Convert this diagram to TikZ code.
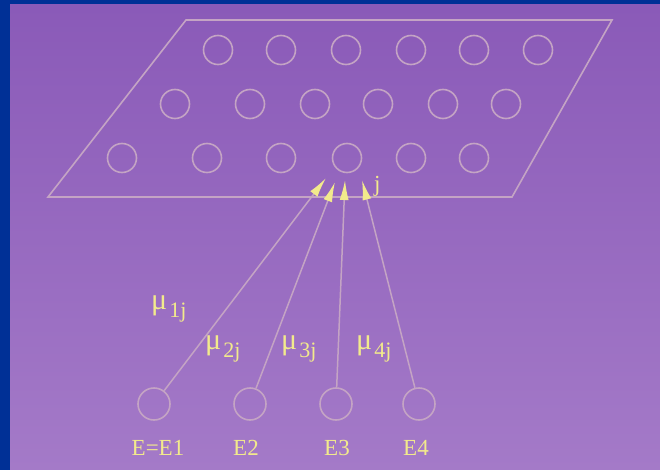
\documentclass[tikz,border=0pt]{standalone}
\usepackage{fontspec}
\setmainfont{Liberation Serif}
\usetikzlibrary{arrows.meta}
\definecolor{bgtop}{RGB}{138,90,184}
\definecolor{bgbot}{RGB}{164,122,200}
\definecolor{frameblue}{RGB}{0,48,150}
\definecolor{chalk}{RGB}{196,164,196}
\definecolor{labyel}{RGB}{242,234,140}
\newcommand\mulab[1]{{\fontsize{30}{30}\selectfont μ}\kern2pt\raisebox{-8pt}{\fontsize{22}{22}\selectfont #1}}
\tikzset{
  pin/.style={circle, draw=chalk, line width=1.6pt, minimum size=29pt, inner sep=0pt},
  src/.style={pin, minimum size=32pt},
  lbl/.style={text=labyel, font=\fontsize{23}{23}\selectfont, inner sep=0pt},
  link/.style={draw=chalk, line width=1.5pt, -{Latex[length=20pt,width=9pt,color=labyel]}},
  plane/.style={draw=chalk, line width=1.6pt}
}
\begin{document}
\begin{tikzpicture}[x=1pt,y=-1pt]
\useasboundingbox (0,0) rectangle (660,470);
% frame and background
\fill[frameblue] (0,0) rectangle (660,470);
\shade[top color=bgtop,bottom color=bgbot] (10,5) rectangle (660,470);
% the plane
\draw[plane] (186,20) -- (612,20) -- (512,197) -- (48,197) -- cycle;
% grid of cells on the plane
\foreach \x [count=\i] in {218,281,346,411,474,538} \node[pin] (a\i) at (\x,50) {};
\foreach \x [count=\i] in {175,250,315,378,443,506} \node[pin] (b\i) at (\x,104) {};
\foreach \x [count=\i] in {122,207,281,347,411,474} \node[pin] (c\i) at (\x,158) {};
% sources
\node[src] (e1) at (154,404) {};
\node[src] (e2) at (250,404) {};
\node[src] (e3) at (336,404) {};
\node[src] (e4) at (419,404) {};
\node[lbl, anchor=base] (le1) at (158,455) {E=E1};
\node[lbl, anchor=base] (le2) at (246,455) {E2};
\node[lbl, anchor=base] (le3) at (337,455) {E3};
\node[lbl, anchor=base] (le4) at (416,455) {E4};
% arrow tips just below the target cell
\coordinate (t1) at (326,178);
\coordinate (t2) at (335,182);
\coordinate (t3) at (345,180);
\coordinate (t4) at (362,180);
\draw[link] (e1) -- (t1);
\draw[link] (e2) -- (t2);
\draw[link] (e3) -- (t3);
\draw[link] (e4) -- (t4);
\node[lbl, anchor=base west] (lj) at (374,192) {j};
% weights
\node[lbl, anchor=base west] (m1) at (151,309) {\mulab{1j}};
\node[lbl, anchor=base west] (m2) at (205,349) {\mulab{2j}};
\node[lbl, anchor=base west] (m3) at (281,349) {\mulab{3j}};
\node[lbl, anchor=base west] (m4) at (356,349) {\mulab{4j}};
\end{tikzpicture}
\end{document}
